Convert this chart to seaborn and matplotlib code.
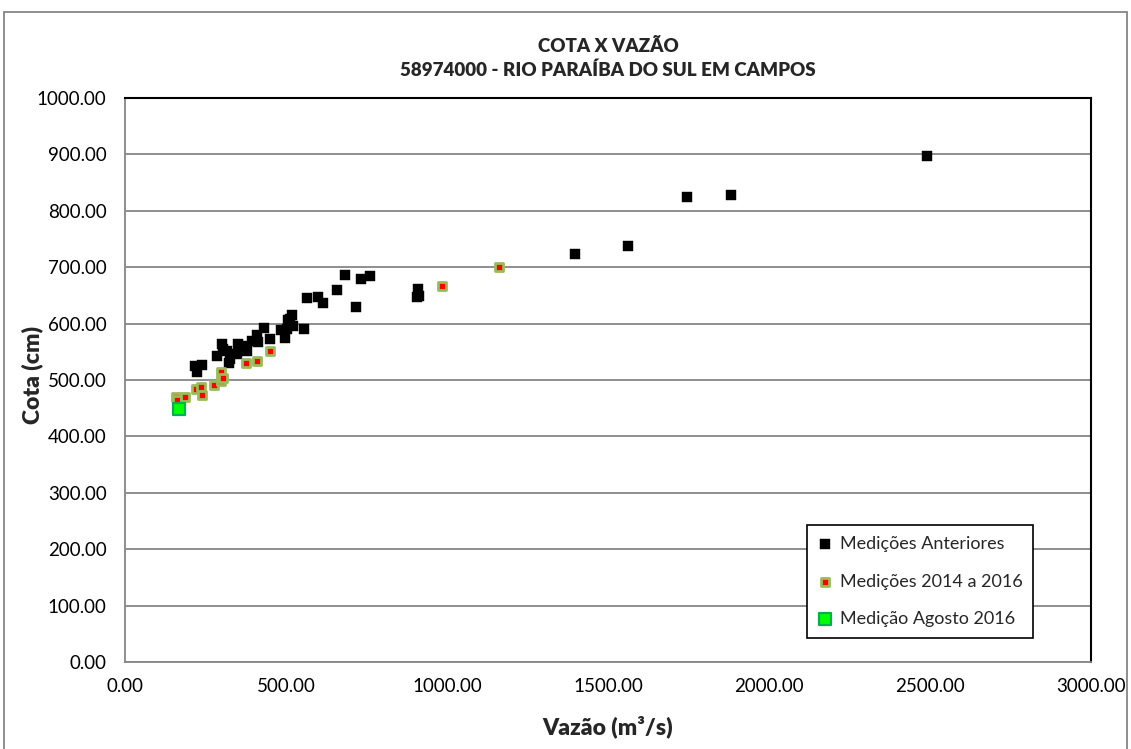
import matplotlib
matplotlib.use("Agg")
import matplotlib.pyplot as plt
import seaborn as sns
from matplotlib.patches import Rectangle

# Medições anteriores (vazão m3/s, cota cm)
anteriores_q = [217, 223, 238, 285, 300, 303, 316, 324, 326, 349, 352, 365, 378, 394,
                409, 414, 433, 450, 484, 497, 504, 507, 512, 520, 521, 556, 566, 600,
                614, 659, 683, 717, 732, 761, 907, 909, 914, 1398, 1562, 1745, 1881, 2491]
anteriores_h = [524, 514, 527, 543, 564, 555, 551, 531, 537, 546, 564, 560, 552, 570,
                579, 567, 593, 573, 588, 575, 591, 607, 608, 615, 595, 591, 645, 648,
                636, 660, 686, 630, 679, 685, 648, 661, 649, 723, 737, 824, 828, 897]

# Medições 2014 a 2016
recentes_q = [158, 162, 186, 221, 236, 238, 277, 298, 298, 305, 376, 409, 450, 984, 1160]
recentes_h = [470, 464, 469, 484, 488, 474, 492, 514, 498, 504, 531, 533, 552, 666, 701]

# Medição agosto 2016
agosto_q = [169]
agosto_h = [449]

x_ticks = [0, 500, 1000, 1500, 2000, 2500, 3000]
y_ticks = [0, 100, 200, 300, 400, 500, 600, 700, 800, 900, 1000]

sns.set_style("white")
plt.rcParams['font.family'] = ['Lato', 'DejaVu Sans']

fig = plt.figure(figsize=(11.31, 7.49), dpi=100)
ax = fig.add_axes([125 / 1131, 1 - 662 / 749, 966 / 1131, 564 / 749])

sns.scatterplot(x=anteriores_q, y=anteriores_h, marker='s', s=45, color='black',
                edgecolor='black', linewidth=0.3, label='Medições Anteriores', ax=ax, zorder=3)
sns.scatterplot(x=recentes_q, y=recentes_h, marker='s', s=34, color='#FF0000',
                edgecolor='#9BBB59', linewidth=2.0, label='Medições 2014 a 2016', ax=ax, zorder=4)
sns.scatterplot(x=agosto_q, y=agosto_h, marker='s', s=80, color='#00FF00',
                edgecolor='#00B050', linewidth=1.6, label='Medição Agosto 2016', ax=ax, zorder=5)

ax.set_xlim(0, 3000)
ax.set_ylim(0, 1000)
ax.set_xticks(x_ticks)
ax.set_yticks(y_ticks)
ax.set_xticklabels([f"{v:.2f}" for v in x_ticks])
ax.set_yticklabels([f"{v:.2f}" for v in y_ticks])
ax.tick_params(axis='both', direction='out', length=4.3, width=1, color='#868686',
               labelsize=13.5, labelcolor='black')
ax.tick_params(axis='y', pad=9)
ax.tick_params(axis='x', pad=7)

ax.set_axisbelow(True)
ax.yaxis.grid(True, color='#868686', linewidth=1.3)
ax.xaxis.grid(False)

for s in ["top", "right"]:
    ax.spines[s].set_color('black')
    ax.spines[s].set_linewidth(1.5)
for s in ["left", "bottom"]:
    ax.spines[s].set_color('#868686')
    ax.spines[s].set_linewidth(1.3)

ax.set_xlabel('')
ax.set_ylabel('')
fig.text(608 / 1131, 1 - 727 / 749, 'Vazão (m³/s)', ha='center', va='center',
         fontsize=16.5, fontweight='heavy')
fig.text(32 / 1131, 1 - 375 / 749, 'Cota (cm)', ha='center', va='center',
         rotation=90, fontsize=16.5, fontweight='heavy')

fig.text(608 / 1131, 1 - 47 / 749, 'COTA X VAZÃO', ha='center', va='center',
         fontsize=13.5, fontweight='heavy')
fig.text(608 / 1131, 1 - 70 / 749, '58974000 - RIO PARAÍBA DO SUL EM CAMPOS',
         ha='center', va='center', fontsize=13.5, fontweight='heavy')

leg = ax.legend(loc='upper left', bbox_to_anchor=((807 - 125) / 966, (662 - 525) / 564),
                borderaxespad=0, frameon=True, fancybox=False, edgecolor='black',
                fontsize=13, labelspacing=1.2, handlelength=0.8, handletextpad=0.4,
                borderpad=0.6)
leg.get_frame().set_linewidth(1.2)
leg.get_frame().set_alpha(1)

# moldura externa do gráfico
fig.patches.append(Rectangle((4 / 1131, -0.02), 1123 / 1131, 1.02 - 12 / 749,
                             transform=fig.transFigure, fill=False,
                             edgecolor='#868686', linewidth=1.3))

plt.savefig("out.png", dpi=100)
plt.close()
